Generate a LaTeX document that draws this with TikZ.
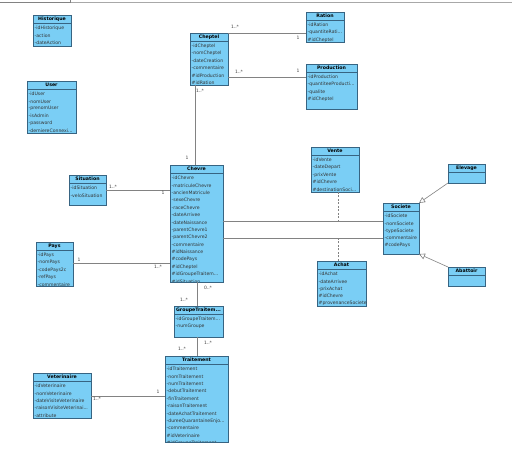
\documentclass[tikz,border=0pt]{standalone}
\usepackage{fontspec}
\setmainfont{DejaVu Sans}
\usetikzlibrary{arrows.meta,calc}
\definecolor{clsfill}{RGB}{122,206,245}
\definecolor{clsborder}{RGB}{55,100,130}
\definecolor{linegray}{RGB}{130,130,130}
\definecolor{shadowc}{RGB}{175,175,175}
\newcommand\tdots{...}
\tikzset{
 classbox/.style={draw=clsborder, fill=clsfill, inner sep=0pt, outer sep=0pt, line width=0.6pt},
 titletext/.style={font=\fontsize{4.7}{5}\selectfont\bfseries, inner sep=0pt, text=black},
 attr/.style={font=\fontsize{4.6}{5}\selectfont, inner sep=0pt, text=black!80, anchor=west},
 assoc/.style={draw=linegray, line width=0.7pt},
 mult/.style={font=\fontsize{4.5}{5}\selectfont, inner sep=0pt, text=black!75},
 gen/.style={draw=linegray, line width=0.6pt, -{Triangle[open,length=6pt,width=6pt,fill=white]}},
 assocdash/.style={draw=linegray, dash pattern=on 2pt off 1.5pt, line width=0.6pt},
}
% name, x1, y1, x2, y2, title
\newcommand\umlclass[6]{%
  \fill[shadowc] (#2+1,#3+1) rectangle (#4+1,#5+1);
  \node[classbox, minimum width={#4-#2}, minimum height={#5-#3}, anchor=north west] (#1) at (#2,#3) {};
  \draw[clsborder, line width=0.6pt] ([yshift=-8pt]#1.north west) -- ([yshift=-8pt]#1.north east);
  \node[titletext] (#1-t) at ([yshift=-4pt]#1.north) {#6};
}
% name, x1, y1, x2, y2, attributes
\newcommand\umlattrs[6]{%
  \begin{scope}
  \clip (#2,#3) rectangle (#4,#5);
  \foreach \a [count=\i] in {#6} {
    \node[attr] (#1-a\i) at (#2+1.5, #3+13+7.4*\i-7.4) {\a};
  }
  \end{scope}
}
\begin{document}
\begin{tikzpicture}[x=1pt,y=-1pt]
\useasboundingbox (0,0) rectangle (512,454);
\fill[white] (0,0) rectangle (512,454);
% top window edge
\draw[linegray!70, line width=0.7pt] (0,2) -- (512,2);
\draw[linegray, line width=0.7pt] (0,2) -- (70,2) -- (70,0);

% classes
\umlclass{historique}{33}{15}{71}{46}{Historique}
\umlattrs{historique}{33}{15}{71}{46}{-idHistorique,-action,-dateAction}

\umlclass{user}{27}{81}{76}{133}{User}
\umlattrs{user}{27}{81}{76}{133}{-idUser,-nomUser,-prenomUser,-isAdmin,-password,-derniereConnexi\tdots}

\umlclass{cheptel}{190}{33}{228}{85}{Cheptel}
\umlattrs{cheptel}{190}{33}{228}{85}{-idCheptel,-nomCheptel,-dateCreation,-commentaire,\#idProduction,\#idRation}

\umlclass{ration}{306}{12}{344}{42}{Ration}
\umlattrs{ration}{306}{12}{344}{42}{-idRation,-quantiteRati\tdots,\#idCheptel}

\umlclass{production}{306}{64}{357}{109}{Production}
\umlattrs{production}{306}{64}{357}{109}{-idProduction,-quantiteeProducti\tdots,-qualite,\#idCheptel}

\umlclass{situation}{69}{175}{106}{205}{Situation}
\umlattrs{situation}{69}{175}{106}{205}{-idSituation,-veloSituation}

\umlclass{pays}{36}{242}{73}{286}{Pays}
\umlattrs{pays}{36}{242}{73}{286}{-idPays,-nomPays,-codePays2c,-refPays,-commentaire}

\umlclass{chevre}{170}{165}{223}{282}{Chevre}
\umlattrs{chevre}{170}{165}{223}{282}{-idChevre,-matriculeChevre,-ancienMatricule,-sexeChevre,-raceChevre,-dateArrivee,-dateNaissance,-parentChevre1,-parentChevre2,-commentaire,\#idNaissance,\#codePays,\#idCheptel,\#idGroupeTraitem\tdots,\#idSituation}

\umlclass{vente}{311}{147}{359}{192}{Vente}
\umlattrs{vente}{311}{147}{359}{192}{-idVente,-dateDepart,-prixVente,\#idChevre,\#destinationSoci\tdots}

\umlclass{societe}{383}{203}{419}{254}{Societe}
\umlattrs{societe}{383}{203}{419}{254}{-idSociete,-nomSociete,-typeSociete,-commentaire,\#codePays}

\umlclass{achat}{317}{261}{366}{306}{Achat}
\umlattrs{achat}{317}{261}{366}{306}{-idAchat,-dateArrivee,-prixAchat,\#idChevre,\#provenanceSociete}

\umlclass{elevage}{448}{164}{485}{183}{Elevage}
\umlclass{abattoir}{448}{267}{485}{286}{Abattoir}

\umlclass{groupe}{174}{306}{223}{337}{GroupeTraitem\tdots}
\umlattrs{groupe}{174}{306}{223}{337}{-idGroupeTraitem\tdots,-numGroupe}

\umlclass{traitement}{165}{356}{228}{442}{Traitement}
\umlattrs{traitement}{165}{356}{228}{442}{-idTraitement,-nomTraitement,-numTraitement,-debutTraitement,-finTraitement,-raisonTraitement,-dateAchatTraitement,-dureeQuarantaineEnjo\tdots,-commentaire,\#idVeterinaire,\#idGroupeTraitement}

\umlclass{veterinaire}{33}{373}{91}{418}{Veterinaire}
\umlattrs{veterinaire}{33}{373}{91}{418}{-idVeterinaire,-nomVeterinaire,-dateVisiteVeterinaire,-raisonVisiteVeterinai\tdots,-attribute}

% associations
\draw[assoc] (cheptel.north east) -- (ration.west |- cheptel.north east);
\draw[assoc] (cheptel.east |- 0,77) -- (production.west |- 0,77);
\draw[assoc] (cheptel.south -| 195,0) -- (chevre.north -| 195,0);
\draw[assoc] (situation.east |- 0,190) -- (chevre.west |- 0,190);
\draw[assoc] (pays.east |- 0,263) -- (chevre.west |- 0,263);
\draw[assoc] (chevre.east |- 0,221) -- (societe.west |- 0,221);
\draw[assoc] (chevre.east |- 0,238) -- (societe.west |- 0,238);
\draw[assoc] (chevre.south -| 197,0) -- (groupe.north -| 197,0);
\draw[assoc] (groupe.south -| 197,0) -- (traitement.north -| 197,0);
\draw[assoc] (veterinaire.east |- 0,396) -- (traitement.west |- 0,396);

% association classes
\coordinate (venteend) at (338,221);
\coordinate (achatend) at (338,238);
\draw[assocdash] (vente.south -| venteend) -- (venteend);
\draw[assocdash] (achat.north -| achatend) -- (achatend);

% generalisations
\draw[gen] (elevage.south west) -- (societe.north east);
\draw[gen] (abattoir.north west) -- (societe.south east);

% multiplicities
\node[mult] (m1) at (235,27) {1..*};
\node[mult] (m2) at (298,38) {1};
\node[mult] (m3) at (239,72) {1..*};
\node[mult] (m4) at (298,71) {1};
\node[mult] (m5) at (200,91) {1..*};
\node[mult] (m6) at (187,158) {1};
\node[mult] (m7) at (113,187) {1..*};
\node[mult] (m8) at (163,193) {1};
\node[mult] (m9) at (79,260) {1};
\node[mult] (m10) at (158,267) {1..*};
\node[mult] (m11) at (208,288) {0..*};
\node[mult] (m12) at (184,300) {1..*};
\node[mult] (m13) at (208,343) {1..*};
\node[mult] (m14) at (182,349) {1..*};
\node[mult] (m15) at (97,399) {1..*};
\node[mult] (m16) at (158,392) {1};
\end{tikzpicture}
\end{document}
